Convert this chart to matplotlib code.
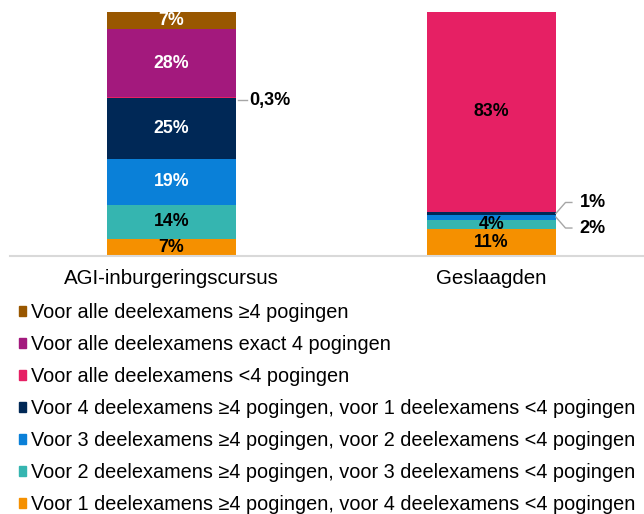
import numpy as np
import matplotlib
matplotlib.use('Agg')
from matplotlib import pyplot as plt
from matplotlib.patches import Patch

plt.rcParams['font.family'] = ['Liberation Sans', 'DejaVu Sans']

categories = ['AGI-inburgeringscursus', 'Geslaagden']
# stacking order, bottom to top
series = [
    'Voor 1 deelexamens ≥4 pogingen, voor 4 deelexamens <4 pogingen',
    'Voor 2 deelexamens ≥4 pogingen, voor 3 deelexamens <4 pogingen',
    'Voor 3 deelexamens ≥4 pogingen, voor 2 deelexamens <4 pogingen',
    'Voor 4 deelexamens ≥4 pogingen, voor 1 deelexamens <4 pogingen',
    'Voor alle deelexamens <4 pogingen',
    'Voor alle deelexamens exact 4 pogingen',
    'Voor alle deelexamens ≥4 pogingen',
]
agi = [7, 14, 19, 25, 0.3, 28, 7]
geslaagd = [11, 4, 2, 1, 83, 0, 0.3]
colors = ['#F59000', '#35B5B0', '#0A80D8', '#002856', '#E62064', '#A3197D', '#995700']
# label colour per segment ('' = no label inside the bar)
agi_txt = ['black', 'black', 'white', 'white', '', 'white', 'white']
ges_txt = ['black', 'black', '', '', 'black', '', '']

fig = plt.figure(figsize=(6.44, 5.14), dpi=100)
ax = fig.add_axes([10/644, 1-256/514, 634/644, 244/514])

x = np.arange(len(categories))
w = 0.403
bottoms = np.zeros(2)
for i, name in enumerate(series):
    vals = np.array([agi[i], geslaagd[i]])
    ax.bar(x, vals, w, bottom=bottoms, color=colors[i], edgecolor='none')
    for j, c in enumerate([agi_txt[i], ges_txt[i]]):
        if c:
            ax.text(x[j], bottoms[j] + vals[j]/2, '%d%%' % round(vals[j]),
                    ha='center', va='center', color=c, fontsize=12.8, fontweight='bold')
    bottoms += vals

# callouts for small segments
lc = '#A6A6A6'
cum_agi = np.cumsum(agi)
ya = cum_agi[3] - 1
ax.plot([x[0]+w/2+0.005, x[0]+w/2+0.035], [ya, ya], color=lc, lw=1, clip_on=False)
ax.text(x[0]+w/2+0.04, ya, '0,3%', ha='left', va='center', fontsize=13, fontweight='bold')

cum_g = np.cumsum(geslaagd)
yn = cum_g[2] + geslaagd[3]/2
yb = cum_g[1] + geslaagd[2]/2
xe = x[1] + w/2
ax.plot([xe, xe+0.03, xe+0.05], [yn, yn+4.5, yn+4.5], color=lc, lw=1, clip_on=False)
ax.text(xe+0.075, yn+4.5, '1%', ha='left', va='center', fontsize=13, fontweight='bold')
ax.plot([xe, xe+0.03, xe+0.05], [yb, yb-4.5, yb-4.5], color=lc, lw=1, clip_on=False)
ax.text(xe+0.075, yb-4.5, '2%', ha='left', va='center', fontsize=13, fontweight='bold')

ax.set_xlim(-0.505, 1.477)
ax.set_ylim(0, 100.3)
ax.set_xticks(x)
ax.set_xticklabels(categories, fontsize=14.8)
ax.tick_params(axis='x', length=0, pad=9)
ax.set_yticks([])
for s in ['top', 'right', 'left']:
    ax.spines[s].set_visible(False)
ax.spines['bottom'].set_color('#D9D9D9')
ax.spines['bottom'].set_linewidth(1.5)

handles = [Patch(color=colors[i], label=series[i]) for i in range(len(series)-1, -1, -1)]
fig.legend(handles=handles, loc='upper left', bbox_to_anchor=(19/644, 1-303/514),
           frameon=False, fontsize=14.3, handlelength=0.36, handleheight=0.36,
           handletextpad=0.25, labelspacing=0.655, borderaxespad=0, borderpad=0)

fig.savefig('out.png', dpi=100)
